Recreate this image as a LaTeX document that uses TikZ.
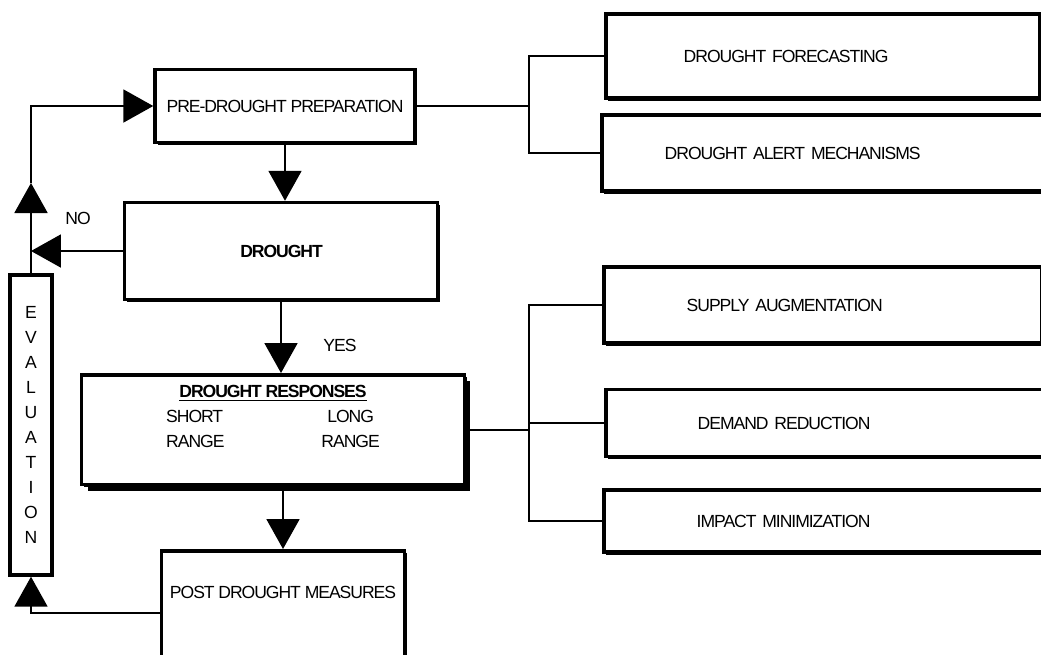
\documentclass[tikz,border=0pt]{standalone}
\usepackage{fontspec}
\setmainfont{Liberation Sans}[LetterSpace=-6]
\usetikzlibrary{arrows.meta,positioning,shadows}

\begin{document}
\begin{tikzpicture}[
x=0.02cm, y=-0.02cm,
font=\fontsize{10}{14.2}\selectfont,
box/.style={draw, line width=0.07cm, fill=white, inner sep=0pt,
  drop shadow={shadow xshift=0.05cm, shadow yshift=-0.05cm, fill=black, opacity=1}},
bigshadow/.style={drop shadow={shadow xshift=0.12cm, shadow yshift=-0.12cm, fill=black, opacity=1}},
sidebox/.style={box, anchor=west, align=left},
line/.style={line width=0.04cm},
bigarrow/.style={line, -{Triangle[length=0.6cm, width=0.66cm]}}
]
\useasboundingbox (0,0) rectangle (1041,654);
\clip (0,0) rectangle (1041,654);
% main loop
\node[box, minimum width=5.2cm, minimum height=1.46cm] (pre) at (285,106) {PRE-DROUGHT PREPARATION};
\node[box, minimum width=6.26cm, minimum height=1.94cm] (drought) at (281,251) {\textbf{DROUGHT}};
\node[box, bigshadow, anchor=north, inner ysep=0.1cm, text depth=1.65cm, minimum width=7.66cm] (resp) at (273,373)
  {\begin{tabular}[t]{@{}l@{\hspace{1.94cm}}c@{}}
   \multicolumn{2}{c}{\textbf{\underline{DROUGHT RESPONSES}}}\\
   SHORT & LONG\\
   RANGE & RANGE
   \end{tabular}};
\node[box, anchor=north, inner ysep=0.71cm, text depth=2cm, minimum width=4.86cm] (post) at (283,549) {POST DROUGHT MEASURES};
\node[box, align=center, minimum width=0.84cm, minimum height=6cm] (eval) at (31,425) {E\\V\\A\\L\\U\\A\\T\\I\\O\\N};
% side boxes
\node[sidebox, inner xsep=1.56cm, text width=5.56cm, minimum height=1.68cm] (fore) at (604,56) {DROUGHT FORECASTING};
\node[sidebox, inner xsep=1.26cm, text width=7.88cm, minimum height=1.52cm] (alert) at (600,153) {DROUGHT ALERT MECHANISMS};
\node[sidebox, inner xsep=1.66cm, text width=5.44cm, minimum height=1.52cm] (supply) at (602,305) {SUPPLY AUGMENTATION};
\node[sidebox, inner xsep=1.84cm, text width=6.72cm, minimum height=1.34cm] (demand) at (604,423) {DEMAND REDUCTION};
\node[sidebox, inner xsep=1.86cm, text width=6.68cm, minimum height=1.24cm] (impact) at (602,521) {IMPACT MINIMIZATION};
\node (no) at (78,218) {NO};
\node (yes) at (340,345) {YES};
% branches
\coordinate (fork) at (529,0);
\draw[line] (pre.east) -- (pre.east -| fork);
\draw[line] (fore.west) -| (fork |- alert.west) -- (alert.west);
\draw[line] (resp.east) -- (resp.east -| fork);
\draw[line] (supply.west) -| (fork |- impact.west) -- (impact.west);
\draw[line] (fork |- demand.west) -- (demand.west);
% arrows
\draw[bigarrow] (pre.south) -- (pre.south |- drought.north);
\draw[bigarrow] (drought.south) -- (drought.south |- resp.north);
\draw[bigarrow] (post.north |- resp.south) -- (post.north);
\draw[bigarrow] (drought.west) -- (drought.west -| eval.north);
\coordinate (upmid) at (31,183);
\draw[bigarrow] (eval.north) -- (upmid);
\draw[bigarrow] (upmid) |- (pre.west);
\draw[bigarrow] ([yshift=-1.28cm]post.north west) -| (eval.south);
\end{tikzpicture}
\end{document}
